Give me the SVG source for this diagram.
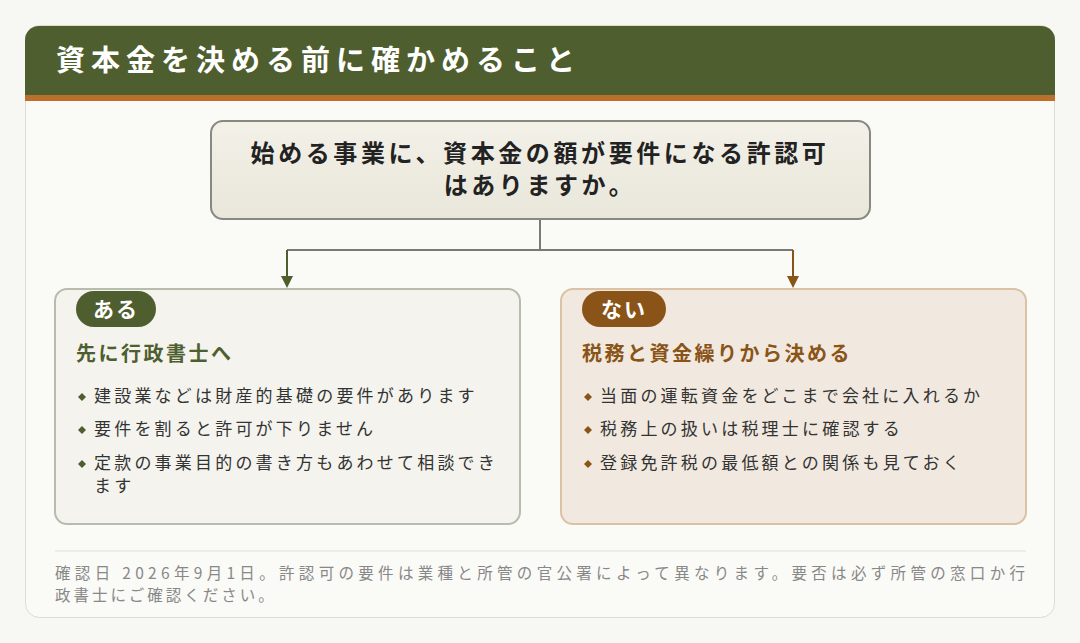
<svg xmlns="http://www.w3.org/2000/svg" width="1080" height="643" viewBox="0 0 1080 643">
<defs>
<style>
text{font-family:"Noto Sans CJK JP","Noto Sans",sans-serif}
.b{font-size:17px;fill:#333;letter-spacing:3.2px}
.f{font-size:15.5px;fill:#888}
</style>
<linearGradient id="q" x1="0" y1="0" x2="0" y2="1"><stop offset="0" stop-color="#f3f1e8"/><stop offset="1" stop-color="#e9e6da"/></linearGradient>
</defs>
<rect width="1080" height="643" fill="#f7f7f4"/>
<rect x="25.5" y="25.5" width="1029" height="592" rx="14" fill="#fafaf7" stroke="#dedcd0"/>
<g id="header">
<path d="M25,95 V40 a14,14 0 0 1 14,-14 H1041 a14,14 0 0 1 14,14 V95Z" fill="#4e5e2e"/>
<rect x="25" y="95" width="1030" height="6" fill="#b8702a"/>
<text x="56" y="71" font-size="29" font-weight="bold" fill="#fff" letter-spacing="6">資本金を決める前に確かめること</text>
</g>
<g id="connectors" fill="none" stroke="#7a7a72" stroke-width="2">
<path d="M540,220 V250"/>
<path d="M287,250 H793"/>
<path d="M287,250 V278" stroke="#4e5e2e"/>
<path d="M793,250 V278" stroke="#8a5418"/>
<path d="M281,276 H293 L287,288Z" fill="#4e5e2e" stroke="none"/>
<path d="M787,276 H799 L793,288Z" fill="#8a5418" stroke="none"/>
</g>
<g id="question">
<rect x="211" y="121" width="659" height="98" rx="12" fill="url(#q)" stroke="#888880" stroke-width="2"/>
<text x="540" y="162" font-size="24" font-weight="bold" fill="#222" text-anchor="middle" letter-spacing="3.6">始める事業に、資本金の額が要件になる許認可</text>
<text x="540" y="194" font-size="24" font-weight="bold" fill="#222" text-anchor="middle" letter-spacing="3.6">はありますか。</text>
</g>
<g id="yes">
<rect x="55" y="289" width="465" height="235" rx="12" fill="#f4f3ee" stroke="#b8bcac" stroke-width="2"/>
<rect x="76" y="291" width="80" height="36" rx="18" fill="#4e5e2e"/>
<text x="116" y="317" font-size="21" font-weight="bold" fill="#fff" text-anchor="middle" letter-spacing="2">ある</text>
<text x="76" y="361" font-size="20" font-weight="bold" fill="#4e5e2e" letter-spacing="2.5">先に行政書士へ</text>
<g fill="#4e5e2e"><path d="M82,393l4,4-4,4-4-4z"/><path d="M82,426l4,4-4,4-4-4z"/><path d="M82,460l4,4-4,4-4-4z"/></g>
<text class="b" x="94" y="402">建設業などは財産的基礎の要件があります</text>
<text class="b" x="94" y="435">要件を割ると許可が下りません</text>
<text class="b" x="94" y="469">定款の事業目的の書き方もあわせて相談でき</text>
<text class="b" x="94" y="492">ます</text>
</g>
<g id="no">
<rect x="561" y="289" width="465" height="235" rx="12" fill="#f1e9df" stroke="#dcc2a4" stroke-width="2"/>
<rect x="582" y="291" width="84" height="36" rx="18" fill="#8a5418"/>
<text x="624" y="317" font-size="21" font-weight="bold" fill="#fff" text-anchor="middle" letter-spacing="2">ない</text>
<text x="582" y="361" font-size="20" font-weight="bold" fill="#8a5418" letter-spacing="2.5">税務と資金繰りから決める</text>
<g fill="#8a5418"><path d="M588,393l4,4-4,4-4-4z"/><path d="M588,426l4,4-4,4-4-4z"/><path d="M588,460l4,4-4,4-4-4z"/></g>
<text class="b" x="600" y="402">当面の運転資金をどこまで会社に入れるか</text>
<text class="b" x="600" y="435">税務上の扱いは税理士に確認する</text>
<text class="b" x="600" y="469">登録免許税の最低額との関係も見ておく</text>
</g>
<g id="footer">
<line x1="55" y1="551" x2="1026" y2="551" stroke="#e2e0d6"/>
<text class="f" x="55" y="579" textLength="970" lengthAdjust="spacing">確認日 2026年9月1日。許認可の要件は業種と所管の官公署によって異なります。要否は必ず所管の窓口か行</text>
<text class="f" x="55" y="601" letter-spacing="3">政書士にご確認ください。</text>
</g>
</svg>
